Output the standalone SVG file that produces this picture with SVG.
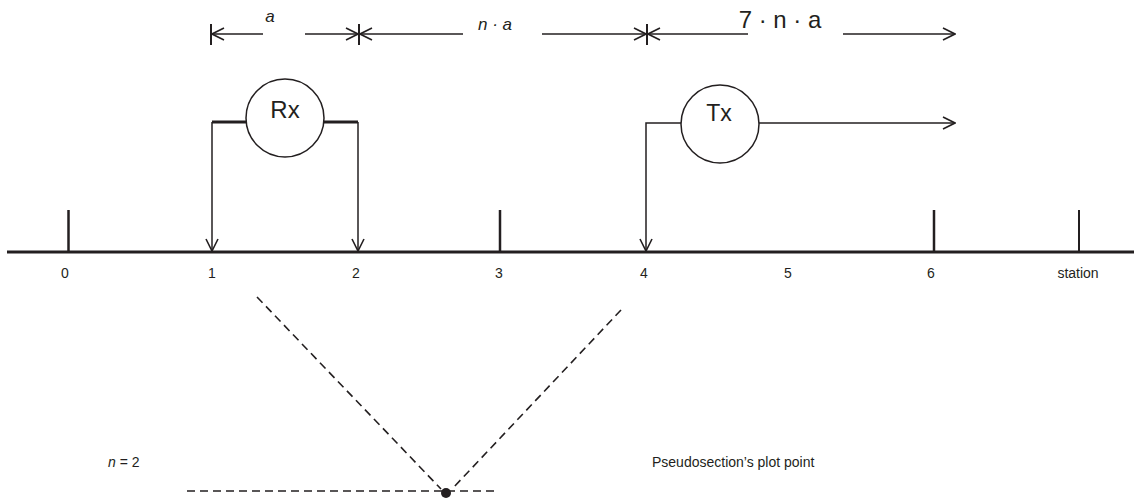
<svg xmlns="http://www.w3.org/2000/svg" width="1134" height="502" viewBox="0 0 1134 502">
<style>
.ln{stroke:#231f20;stroke-width:1.5;fill:none}
.thick{stroke:#231f20;stroke-width:3;fill:none}
.tick{stroke:#231f20;stroke-width:2.5;fill:none}
.dash{stroke:#231f20;stroke-width:1.6;fill:none;stroke-dasharray:8 5}
.circ{stroke:#231f20;stroke-width:1.5;fill:#fff}
.t{font-family:"Liberation Sans",Arial,sans-serif;fill:#231f20}
.lbl{font-size:14px;text-anchor:middle}
</style>
<defs>
<marker id="arr" viewBox="0 0 14 14" refX="13" refY="7" markerWidth="14" markerHeight="14" markerUnits="userSpaceOnUse" orient="auto">
<path d="M1,1 L13,7 L1,13" fill="none" stroke="#231f20" stroke-width="1.6"/>
</marker>
</defs>
<rect width="1134" height="502" fill="#fff"/>
<g id="ground">
<line class="thick" x1="7" y1="252" x2="1134" y2="252"/>
<line class="tick" x1="68.5" y1="210" x2="68.5" y2="252"/>
<line class="tick" x1="500" y1="210" x2="500" y2="252"/>
<line class="tick" x1="934" y1="210" x2="934" y2="252"/>
<line class="tick" x1="1079" y1="210" x2="1079" y2="252" style="stroke-width:2"/>
<text class="t lbl" x="65" y="278">0</text>
<text class="t lbl" x="212" y="278">1</text>
<text class="t lbl" x="356" y="278">2</text>
<text class="t lbl" x="499" y="278">3</text>
<text class="t lbl" x="644" y="278">4</text>
<text class="t lbl" x="788" y="278">5</text>
<text class="t lbl" x="931" y="278">6</text>
<text class="t lbl" x="1078" y="278">station</text>
</g>
<g id="dimensions">
<line class="tick" x1="211" y1="24" x2="211" y2="45" style="stroke-width:2"/>
<line class="tick" x1="359" y1="24" x2="359" y2="45" style="stroke-width:2"/>
<line class="tick" x1="647" y1="24" x2="647" y2="45" style="stroke-width:2"/>
<line class="ln" x1="263" y1="34" x2="212" y2="34" marker-end="url(#arr)"/>
<line class="ln" x1="305" y1="34" x2="358" y2="34" marker-end="url(#arr)"/>
<line class="ln" x1="463" y1="34" x2="360" y2="34" marker-end="url(#arr)"/>
<line class="ln" x1="542" y1="34" x2="646" y2="34" marker-end="url(#arr)"/>
<line class="ln" x1="748" y1="34" x2="648" y2="34" marker-end="url(#arr)"/>
<line class="ln" x1="843" y1="34" x2="955" y2="34" marker-end="url(#arr)"/>
<text class="t" x="270" y="22" font-size="17" font-style="italic" text-anchor="middle">a</text>
<text class="t" x="495" y="30" font-size="17" font-style="italic" text-anchor="middle">n · a</text>
<text class="t" x="780" y="28" font-size="24" text-anchor="middle">7 · n · a</text>
</g>
<g id="connectors">
<path class="thick" d="M212,122 H246"/>
<path class="thick" d="M324,122 H358"/>
<line class="ln" x1="212" y1="122" x2="212" y2="251" marker-end="url(#arr)"/>
<line class="ln" x1="358" y1="122" x2="358" y2="251" marker-end="url(#arr)"/>
<path class="ln" d="M681,123 H646 V251" marker-end="url(#arr)"/>
<line class="ln" x1="759" y1="123" x2="955" y2="123" marker-end="url(#arr)"/>
</g>
<g id="Rx">
<circle class="circ" cx="285" cy="118" r="39"/>
<text class="t" x="285" y="118" font-size="24" text-anchor="middle">Rx</text>
</g>
<g id="Tx">
<circle class="circ" cx="720" cy="124" r="39"/>
<text class="t" x="719" y="121" font-size="23" text-anchor="middle">Tx</text>
</g>
<g id="pseudosection">
<line class="dash" x1="257" y1="297" x2="441" y2="489"/>
<line class="dash" x1="621" y1="310" x2="453" y2="488"/>
<line class="dash" x1="187" y1="491" x2="495" y2="491"/>
<circle cx="446" cy="493" r="5" fill="#231f20"/>
<text class="t" x="108" y="467" font-size="14"><tspan font-style="italic">n</tspan> = 2</text>
<text class="t" x="652" y="467" font-size="14">Pseudosection’s plot point</text>
</g>
</svg>
